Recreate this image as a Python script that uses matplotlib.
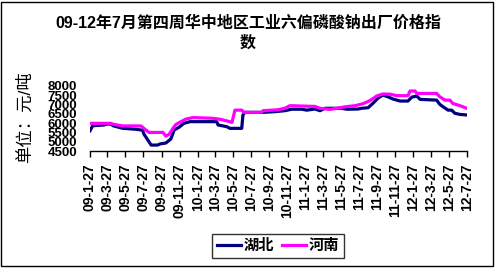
import pandas as pd
import matplotlib
matplotlib.use('Agg')
import matplotlib.pyplot as plt
from matplotlib.patches import Rectangle

plt.rcParams['font.family'] = ['Liberation Sans', 'Noto Sans CJK SC', 'DejaVu Sans']

title = '09-12年7月第四周华中地区工业六偏磷酸钠出厂价格指\n数'
y_label = '单位：元/吨'

# 湖北
hubei_dates = ['2009-01-27', '2009-02-05', '2009-03-15', '2009-03-26', '2009-04-08', '2009-04-15',
               '2009-05-18', '2009-07-02', '2009-07-24', '2009-07-29', '2009-08-11', '2009-08-22',
               '2009-09-13', '2009-09-21', '2009-10-11', '2009-10-28', '2009-11-08', '2009-11-24',
               '2009-12-11', '2010-01-01', '2010-04-01', '2010-04-06', '2010-05-05', '2010-05-16',
               '2010-06-25', '2010-06-29', '2010-07-06', '2010-09-05', '2010-10-16', '2010-11-18',
               '2010-12-11', '2011-01-14', '2011-01-31', '2011-02-28', '2011-03-17', '2011-04-03',
               '2011-05-29', '2011-06-15', '2011-07-24', '2011-08-05', '2011-08-27', '2011-09-12',
               '2011-09-29', '2011-10-16', '2011-11-02', '2011-11-19', '2011-12-13', '2012-01-09',
               '2012-01-22', '2012-02-08', '2012-02-19', '2012-04-15', '2012-04-26', '2012-05-07',
               '2012-05-24', '2012-06-05', '2012-06-16', '2012-07-03', '2012-07-26']
hubei_values = [5590, 5860, 5900, 5950, 5950, 5860,
                5720, 5670, 5620, 5400, 5090, 4820,
                4820, 4880, 4930, 5150, 5630, 5770,
                5990, 6080, 6080, 5900, 5810, 5720,
                5720, 6440, 6580, 6580, 6620, 6670,
                6750, 6750, 6700, 6760, 6670, 6800,
                6800, 6750, 6760, 6800, 6830, 7060,
                7340, 7510, 7420, 7300, 7190, 7190,
                7400, 7460, 7280, 7240, 7010, 6880,
                6700, 6700, 6530, 6470, 6440]

# 河南
henan_dates = ['2009-01-27', '2009-04-08', '2009-04-15', '2009-05-18', '2009-07-19', '2009-08-01',
               '2009-08-15', '2009-10-01', '2009-10-11', '2009-10-22', '2009-11-04', '2009-11-14',
               '2009-12-01', '2009-12-18', '2010-01-11', '2010-03-20', '2010-04-12', '2010-05-06',
               '2010-05-23', '2010-06-02', '2010-06-25', '2010-07-03', '2010-09-01', '2010-09-05',
               '2010-10-26', '2010-11-18', '2010-12-05', '2011-02-28', '2011-03-17', '2011-04-20',
               '2011-05-13', '2011-06-10', '2011-07-14', '2011-08-10', '2011-09-02', '2011-09-25',
               '2011-10-16', '2011-11-09', '2011-12-02', '2012-01-09', '2012-01-16', '2012-02-02',
               '2012-02-08', '2012-04-15', '2012-04-26', '2012-05-13', '2012-05-30', '2012-06-09',
               '2012-07-03', '2012-07-26']
henan_values = [5990, 5990, 5940, 5850, 5850, 5670,
                5500, 5500, 5300, 5400, 5720, 5930,
                6080, 6220, 6300, 6260, 6210, 6120,
                6040, 6700, 6700, 6580, 6580, 6670,
                6720, 6800, 6940, 6900, 6800, 6740,
                6800, 6880, 6940, 7050, 7210, 7460,
                7570, 7560, 7480, 7480, 7730, 7730,
                7600, 7600, 7420, 7240, 7240, 7060,
                6940, 6800]

tick_labels = ['09-1-27', '09-3-27', '09-5-27', '09-7-27', '09-9-27', '09-11-27',
               '10-1-27', '10-3-27', '10-5-27', '10-7-27', '10-9-27', '10-11-27',
               '11-1-27', '11-3-27', '11-5-27', '11-7-27', '11-9-27', '11-11-27',
               '12-1-27', '12-3-27', '12-5-27', '12-7-27']
y_ticks = [4500, 5000, 5500, 6000, 6500, 7000, 7500, 8000]

tick_dates = pd.to_datetime(tick_labels, format='%y-%m-%d')

fig = plt.figure(figsize=(4.96, 2.68), dpi=100)
ax = fig.add_axes([90 / 496, 1 - 151 / 268, 377 / 496, 65 / 268])

ax.plot(pd.to_datetime(hubei_dates), hubei_values, color='#000080', lw=2.3, label='湖北')
ax.plot(pd.to_datetime(henan_dates), henan_values, color='#FF00FF', lw=2.3, label='河南')

ax.set_xlim(tick_dates[0], tick_dates[-1])
ax.set_ylim(4500, 8000)
ax.set_xticks(tick_dates)
ax.set_xticklabels(tick_labels, rotation=90, fontsize=10, fontweight='bold')
ax.set_yticks(y_ticks)
ax.set_yticklabels([str(v) for v in y_ticks], fontsize=9.5, fontweight='bold')
ax.tick_params(axis='y', length=0, pad=9)
ax.tick_params(axis='x', direction='out', length=4, width=1, pad=5)

for s in ['top', 'right', 'left']:
    ax.spines[s].set_visible(False)
ax.spines['bottom'].set_linewidth(1)

fig.text(248 / 496, 1 - 33 / 268, title, ha='center', va='center', fontsize=11.5,
         fontweight='heavy', linespacing=1.3)
fig.text(25 / 496, 1 - 117 / 268, y_label, rotation=90, ha='center', va='center',
         fontsize=12.5)

leg = fig.legend(loc='center', bbox_to_anchor=(278 / 496, 1 - 246 / 268), ncol=2,
                 frameon=True, fancybox=False, edgecolor='black', handlelength=1.6,
                 handletextpad=0.15, columnspacing=0.5, borderpad=0.3,
                 prop={'weight': 'bold', 'size': 11})
leg.get_frame().set_linewidth(1)

fig.patches.append(Rectangle((1 / 496, 2 / 268), 492 / 496, 264 / 268, transform=fig.transFigure,
                             fill=False, edgecolor='black', lw=1))

fig.savefig('out.png', dpi=100)
